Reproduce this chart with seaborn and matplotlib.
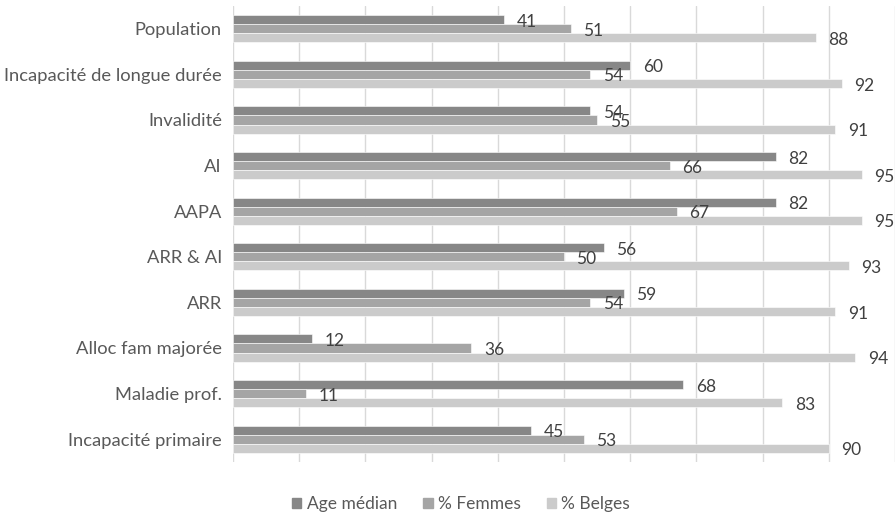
import matplotlib
matplotlib.use("Agg")
import matplotlib.pyplot as plt
import seaborn as sns
import pandas as pd

categories = [
    "Population",
    "Incapacité de longue durée",
    "Invalidité",
    "AI",
    "AAPA",
    "ARR & AI",
    "ARR",
    "Alloc fam majorée",
    "Maladie prof.",
    "Incapacité primaire",
]
series_names = ["Age médian", "% Femmes", "% Belges"]
age_median = [41, 60, 54, 82, 82, 56, 59, 12, 68, 45]
pct_femmes = [51, 54, 55, 66, 67, 50, 54, 36, 11, 53]
pct_belges = [88, 92, 91, 95, 95, 93, 91, 94, 83, 90]
colors = ["#878787", "#a5a5a5", "#cbcbcb"]

series_values = [age_median, pct_femmes, pct_belges]
rows = []
for name, vals in zip(series_names, series_values):
    for cat, v in zip(categories, vals):
        rows.append({"Catégorie": cat, "Série": name, "Valeur": v})
df = pd.DataFrame(rows)

sns.set_theme(style="white")
plt.rcParams["font.family"] = ["Lato", "DejaVu Sans"]

fig = plt.figure(figsize=(8.96, 5.14), dpi=100)
ax = fig.add_axes([233 / 896, 1 - 462 / 514, (895 - 233) / 896, (462 - 6) / 514])

sns.barplot(
    data=df, x="Valeur", y="Catégorie", hue="Série",
    order=categories, hue_order=series_names,
    palette=colors, orient="h", width=0.6,
    saturation=1, errorbar=None, ax=ax,
    edgecolor="white", linewidth=0.4,
)

ax.set_xlim(0, 100)
ax.set_xticks(range(0, 101, 10))
ax.set_xticklabels([])
ax.grid(axis="x", color="#d9d9d9", linewidth=1)
ax.set_axisbelow(True)
for s in ax.spines.values():
    s.set_visible(False)
ax.tick_params(axis="both", length=0)
ax.tick_params(axis="y", labelsize=13.2, labelcolor="#595959", pad=8)
ax.set_xlabel("")
ax.set_ylabel("")

# value labels just right of each bar end
for container, vals in zip(ax.containers, series_values):
    for bar, v in zip(container, vals):
        ax.annotate(
            f"{v}",
            xy=(bar.get_width(), bar.get_y() + bar.get_height() / 2),
            xytext=(9, -1.5), textcoords="offset points",
            ha="left", va="center", fontsize=12.5, color="#404040",
        )

ax.legend_.remove()
handles = [plt.Rectangle((0, 0), 1, 1, color=c) for c in colors]
fig.legend(
    handles, series_names, loc="center", bbox_to_anchor=(461 / 896, 1 - 504 / 514),
    ncol=3, frameon=False, fontsize=12.5, handlelength=0.55, handleheight=0.55,
    handletextpad=0.3, columnspacing=1.5, labelcolor="#595959",
)

fig.savefig("out.png", dpi=100)
